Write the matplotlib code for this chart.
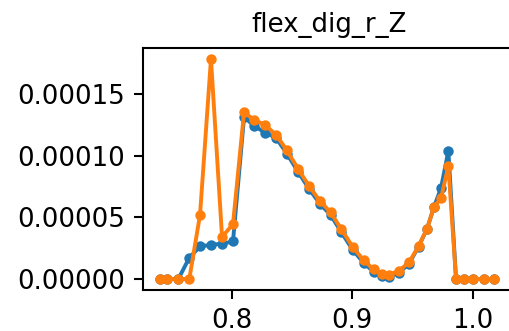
import matplotlib
matplotlib.use("Agg")
import matplotlib.pyplot as plt

# x positions (normalised time)
x = [0.7398, 0.7463, 0.7554, 0.7645, 0.7734, 0.7825, 0.7917, 0.8008, 0.8100, 0.8183,
     0.8274, 0.8366, 0.8457, 0.8549, 0.8640, 0.8731, 0.8819, 0.8906, 0.9002, 0.9093,
     0.9176, 0.9247, 0.9305, 0.9388, 0.9471, 0.9550, 0.9621, 0.9679, 0.9737, 0.9798,
     0.9862, 0.9929, 1.0003, 1.0091, 1.0178]

# first series (blue)
blue = [0, 0, 0, 1.73e-5, 2.64e-5, 2.78e-5, 2.86e-5, 3.05e-5, 1.316e-4, 1.243e-4,
        1.189e-4, 1.146e-4, 1.016e-4, 8.70e-5, 7.32e-5, 6.10e-5, 5.20e-5, 3.84e-5, 2.38e-5, 1.32e-5,
        5.9e-6, 2.7e-6, 1.9e-6, 5.1e-6, 1.24e-5, 2.62e-5, 4.08e-5, 5.86e-5, 7.38e-5, 1.04e-4,
        0, 0, 0, 0, 0]

# second series (orange)
orange = [0, 0, 0, 0, 5.21e-5, 1.786e-4, 3.41e-5, 4.46e-5, 1.354e-4, 1.292e-4,
          1.251e-4, 1.170e-4, 1.044e-4, 8.93e-5, 7.56e-5, 6.32e-5, 5.42e-5, 4.08e-5, 2.62e-5, 1.52e-5,
          7.9e-6, 4.1e-6, 3.5e-6, 6.7e-6, 1.35e-5, 2.66e-5, 4.08e-5, 5.86e-5, 6.55e-5, 9.16e-5,
          0, 0, 0, 0, 0]

fig = plt.figure(figsize=(510 / 187, 331 / 187), dpi=187)
# right spine sits just past the canvas edge, as in the cropped original
ax = fig.add_axes([143 / 510, 41 / 331, 372 / 510, 242 / 331])

ax.plot(x, blue, '.-')
ax.plot(x, orange, '.-')

ax.set_xlim(0.726, 1.0352)
ax.set_title("flex_dig_r_Z", fontsize=10)

fig.savefig("out.png", dpi=187)
